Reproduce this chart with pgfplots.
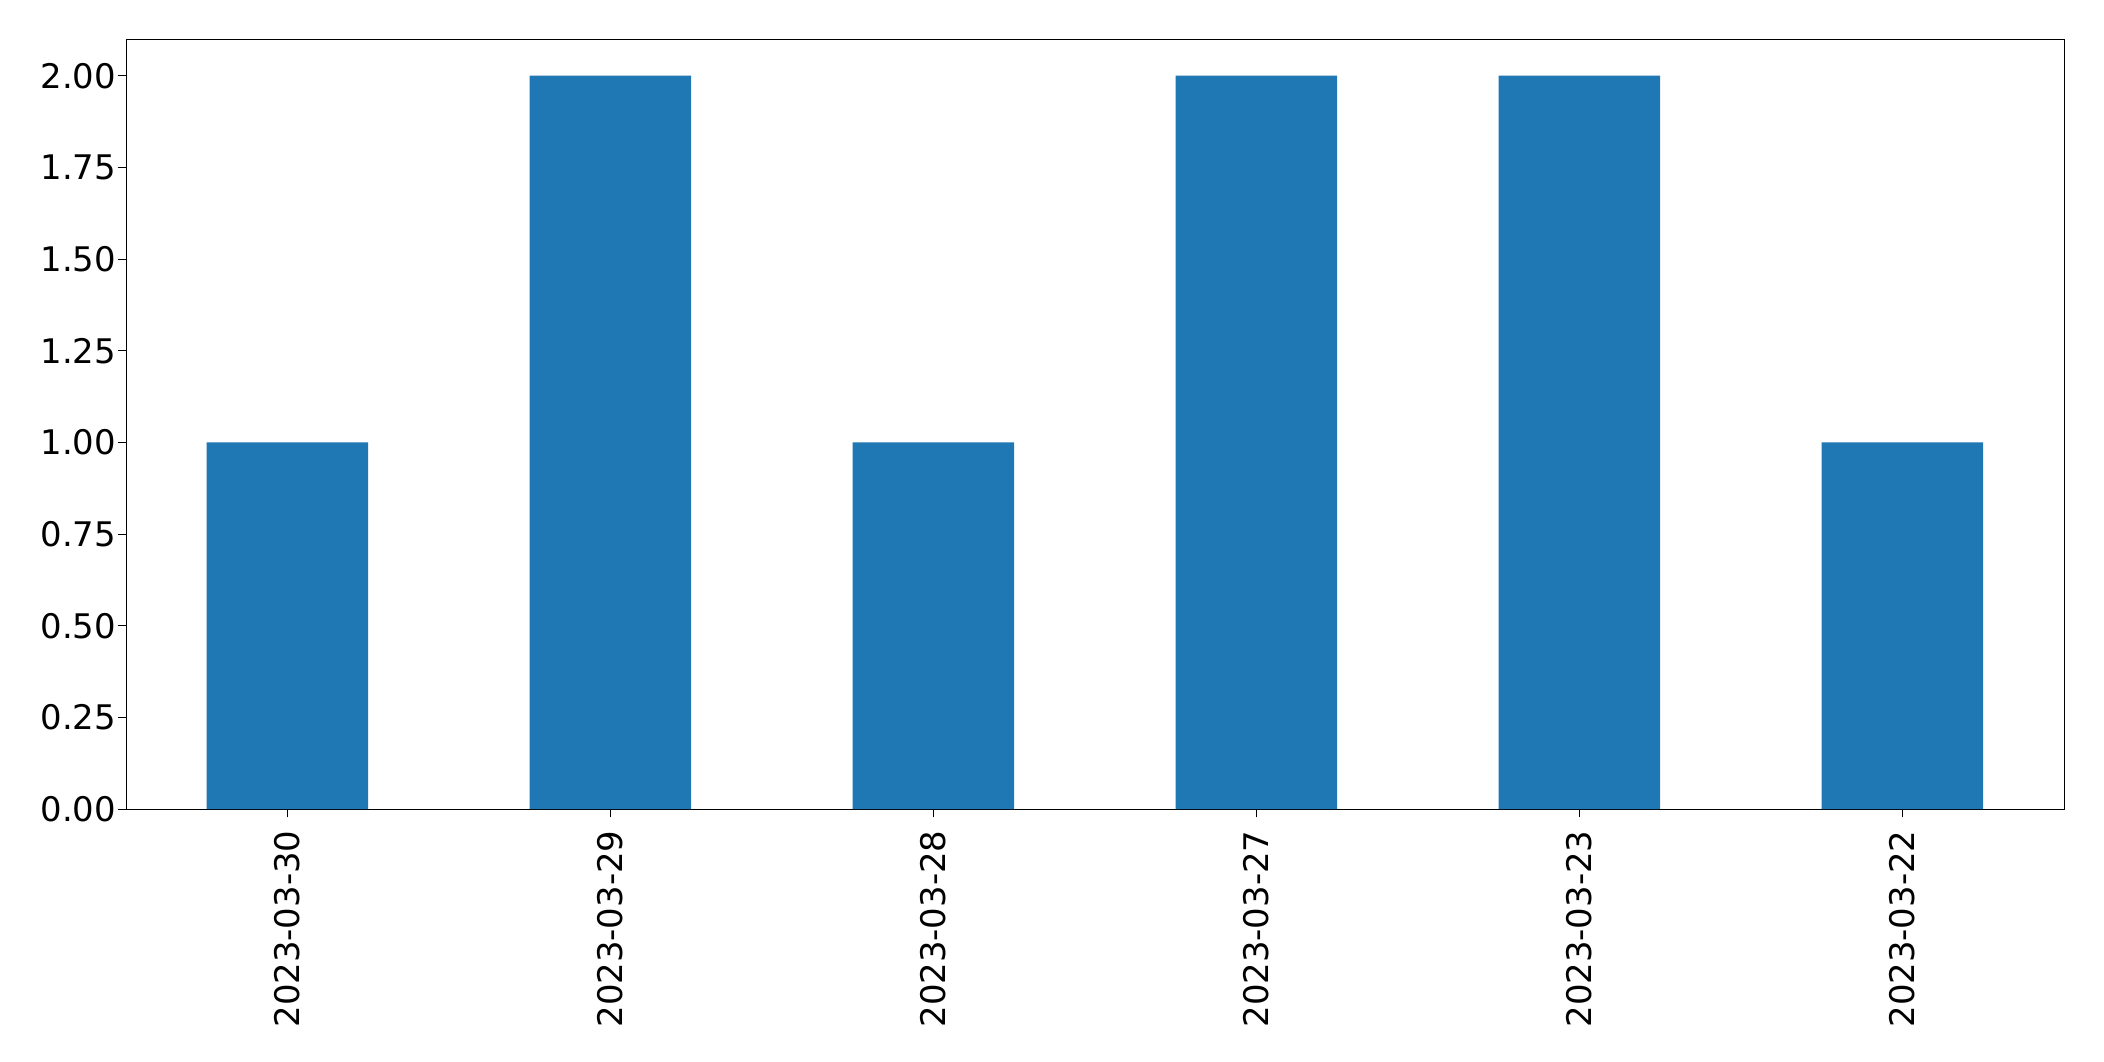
\documentclass[border=0pt]{standalone}
\usepackage{pgfplots}
\pgfplotsset{compat=1.18}
\usepackage{fontspec}
\setmainfont{DejaVu Sans}
\definecolor{mplblue}{HTML}{1F77B4}
\begin{document}
\begin{tikzpicture}[x=1pt,y=1pt]
\begin{axis}[
  scale only axis,
  width=1400.6pt, height=556.5pt,
  at={(0,0)}, anchor=south west,
  xmin=-0.5, xmax=5.5,
  ymin=0, ymax=2.1,
  xtick=data,
  xticklabels={2023-03-30,2023-03-29,2023-03-28,2023-03-27,2023-03-23,2023-03-22},
  ytick={0,0.25,0.5,0.75,1,1.25,1.5,1.75,2},
  yticklabel style={/pgf/number format/fixed, /pgf/number format/fixed zerofill, /pgf/number format/precision=2, inner sep=0pt, xshift=-1pt},
  /pgf/number format/assume math mode=true,
  ticklabel style={font=\fontsize{24.5}{28}\selectfont},
  xticklabel style={rotate=90, anchor=east, inner sep=0pt, outer sep=0pt, xshift=-9.5pt},
  tick align=outside,
  major tick length=6pt,
  tick style={black, line width=0.6pt},
  axis line style={black, line width=0.6pt},
  xtick pos=bottom, ytick pos=left,
  ybar, bar width=0.5,
]
\addplot[fill=mplblue, draw=none, bar width=0.5] coordinates {(0,1) (1,2) (2,1) (3,2) (4,2) (5,1)};
\end{axis}
\pgfresetboundingbox
\path[use as bounding box] (-91.06pt,-182.12pt) rectangle (1429.5pt,584.7pt);
\end{tikzpicture}
\end{document}
